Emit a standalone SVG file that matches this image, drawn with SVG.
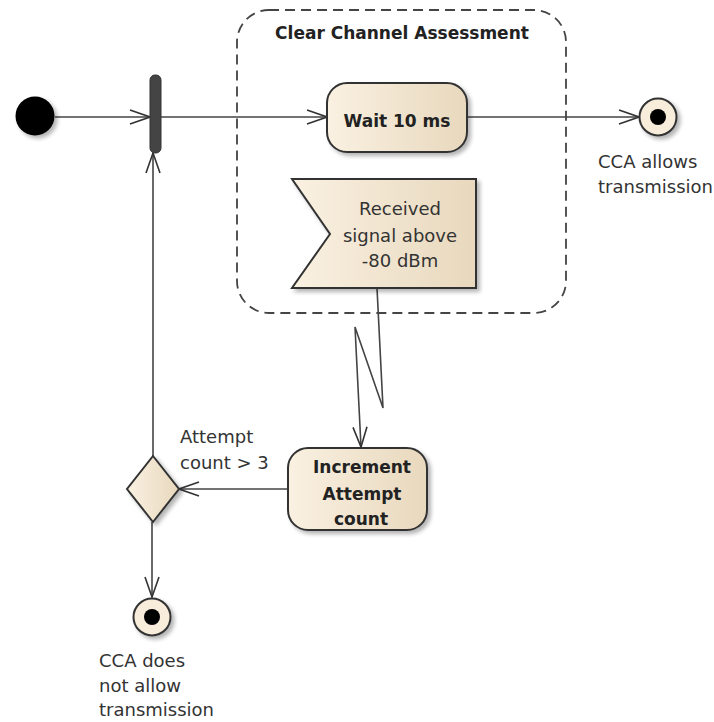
<svg xmlns="http://www.w3.org/2000/svg" width="714" height="722" viewBox="0 0 714 722">
<defs>
<linearGradient id="g" x1="0" y1="0" x2="1" y2="0">
<stop offset="0" stop-color="#faf1e2"/>
<stop offset="1" stop-color="#e8d8bd"/>
</linearGradient>
<filter id="sh" x="-20%" y="-20%" width="150%" height="150%">
<feGaussianBlur in="SourceAlpha" stdDeviation="2"/>
<feOffset dx="3" dy="3"/>
<feComponentTransfer><feFuncA type="linear" slope="0.3"/></feComponentTransfer>
<feMerge><feMergeNode/><feMergeNode in="SourceGraphic"/></feMerge>
</filter>
<marker id="arr" markerWidth="24" markerHeight="16" refX="22" refY="8" orient="auto" markerUnits="userSpaceOnUse">
<path d="M2,1 L22,8 L2,15" fill="none" stroke="#333" stroke-width="1.6"/>
</marker>
</defs>
<style>
.shape{fill:url(#g);stroke:#333;stroke-width:2;filter:url(#sh)}
.edge{fill:none;stroke:#444;stroke-width:1.6}
.b{font-family:"DejaVu Sans",Verdana,sans-serif;font-weight:bold;font-size:17px;fill:#222;text-anchor:middle}
.t{font-family:"DejaVu Sans",Verdana,sans-serif;font-size:18px;fill:#333}
</style>
<rect width="714" height="722" fill="#fff"/>
<g id="cca-frame">
<rect x="237" y="10" width="329" height="303" rx="32" fill="none" stroke="#444" stroke-width="1.8" stroke-dasharray="10,6"/>
<text class="b" x="402" y="39">Clear Channel Assessment</text>
</g>
<g id="edges">
<line class="edge" x1="55" y1="117" x2="150" y2="117" marker-end="url(#arr)"/>
<line class="edge" x1="161" y1="117" x2="327" y2="117" marker-end="url(#arr)"/>
<line class="edge" x1="467" y1="117" x2="639" y2="117" marker-end="url(#arr)"/>
<polyline class="edge" points="377,288 383,408 355,327 361,447" marker-end="url(#arr)"/>
<line class="edge" x1="288" y1="489" x2="179" y2="489" marker-end="url(#arr)"/>
<line class="edge" x1="153" y1="456" x2="153" y2="153" marker-end="url(#arr)"/>
<line class="edge" x1="152" y1="522" x2="152" y2="597" marker-end="url(#arr)"/>
</g>
<g id="initial">
<circle cx="35" cy="116" r="19.5" fill="#000" filter="url(#sh)"/>
</g>
<g id="fork">
<rect x="150" y="75" width="11" height="78" rx="5" fill="#444" stroke="#333" stroke-width="1"/>
</g>
<g id="wait">
<rect class="shape" x="327" y="83" width="140" height="69" rx="20"/>
<text class="b" x="397" y="127">Wait 10 ms</text>
</g>
<g id="signal">
<polygon class="shape" points="292,179 476,179 476,288 292,288 330,234"/>
<text class="t" x="400" y="215" text-anchor="middle">Received</text>
<text class="t" x="400" y="242" text-anchor="middle">signal above</text>
<text class="t" x="400" y="267" text-anchor="middle">-80 dBm</text>
</g>
<g id="final-allow">
<circle cx="658" cy="117" r="18.5" fill="#f8ecdb" stroke="#333" stroke-width="2" filter="url(#sh)"/>
<circle cx="658" cy="117" r="8" fill="#000"/>
<text class="t" x="598" y="168">CCA allows</text>
<text class="t" x="598" y="193">transmission</text>
</g>
<g id="increment">
<rect class="shape" x="288" y="448" width="139" height="82" rx="20"/>
<text class="b" x="362" y="473">Increment</text>
<text class="b" x="362" y="500">Attempt</text>
<text class="b" x="361" y="525">count</text>
</g>
<g id="decision">
<polygon class="shape" points="153,456 179,489 153,522 127,489"/>
<text class="t" x="180" y="443">Attempt</text>
<text class="t" x="180" y="469">count &gt; 3</text>
</g>
<g id="final-deny">
<circle cx="152" cy="617" r="18.5" fill="#f8ecdb" stroke="#333" stroke-width="2" filter="url(#sh)"/>
<circle cx="152" cy="617" r="8" fill="#000"/>
<text class="t" x="99" y="667">CCA does</text>
<text class="t" x="99" y="692">not allow</text>
<text class="t" x="99" y="716">transmission</text>
</g>
</svg>
